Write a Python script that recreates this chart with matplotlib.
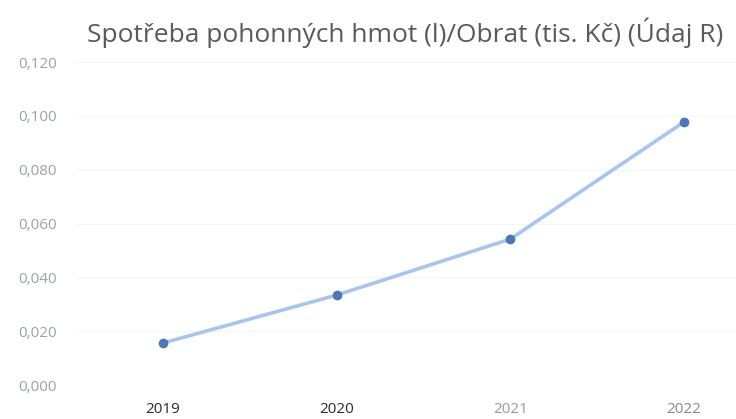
import numpy as np
import matplotlib.pyplot as plt
from matplotlib.ticker import FuncFormatter

years = ['2019', '2020', '2021', '2022']
values = [0.0156, 0.0334, 0.0542, 0.0977]
y_ticks = [0.0, 0.02, 0.04, 0.06, 0.08, 0.10, 0.12]
year_colors = ['#2b2b2b', '#2b2b2b', '#9a9a9a', '#8a8a8a']

plt.rcParams['font.family'] = ['Open Sans', 'DejaVu Sans']

fig = plt.figure(figsize=(7.36, 4.19), dpi=100)
ax = fig.add_axes([0.1033, 0.0811, 0.8967, 0.7709])

x = np.arange(len(years))
ax.plot(x, values, color='#a9c5ec', linewidth=2.6, zorder=2)
ax.plot(x, values, 'o', color='#4f77b5', markersize=6, zorder=3)

ax.set_xlim(-0.5, 3.30)
ax.set_ylim(0, 0.12)
ax.set_yticks(y_ticks)
ax.yaxis.set_major_formatter(FuncFormatter(lambda v, p: f'{v:.3f}'.replace('.', ',')))
ax.set_xticks(x)
ax.set_xticklabels(years)
for lab, c in zip(ax.get_xticklabels(), year_colors):
    lab.set_color(c)

ax.grid(axis='y', color='#f5f5f5', linewidth=0.8, zorder=0)
for s in ax.spines.values():
    s.set_visible(False)
ax.tick_params(axis='both', length=0, labelsize=11)
ax.tick_params(axis='y', colors='#9aa4a8', pad=14)
ax.tick_params(axis='x', pad=12)

fig.text(0.118, 0.922, 'Spotřeba pohonných hmot (l)/Obrat (tis. Kč) (Údaj R)',
         fontsize=19, color='#5a5a5a', ha='left', va='center')

fig.savefig('out.png', dpi=100)
